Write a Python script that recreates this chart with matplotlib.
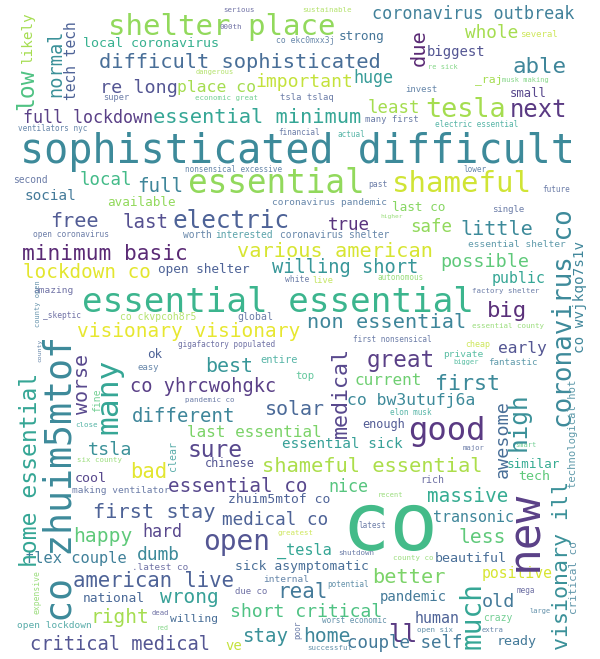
import matplotlib
matplotlib.use("Agg")
import matplotlib.pyplot as plt
import numpy as np

# word cloud terms and their weights (font size, pt)
h_words = [
    "shelter place", "local coronavirus", "difficult sophisticated", "re long", "super",
    "place co", "full lockdown", "essential minimum", "ventilators nyc", "sophisticated difficult",
    "serious", "000th", "sustainable", "co ekc0mxx3j", "strong",
    "coronavirus outbreak", "important", "huge", "economic great", "dangerous",
    "tsla tslaq", "least", "many first", "financial", "actual",
    "whole", "several", "biggest", "re sick", "able",
    "_raj", "musk making", "invest", "small", "tesla",
    "next", "electric essential", "second", "local", "full",
    "social", "available", "free", "last", "electric",
    "open coronavirus", "minimum basic", "open shelter", "lockdown co", "amazing",
    "essential essential", "_skeptic", "co ckvpcoh8r5", "nonsensical excessive", "essential",
    "shameful", "past", "last co", "coronavirus pandemic", "true",
    "higher", "interested", "worth", "coronavirus shelter", "various american",
    "willing short", "white", "live", "autonomous", "global",
    "non essential", "lower", "future", "single", "safe",
    "little", "essential shelter", "possible", "public", "factory shelter",
    "big", "essential county", "ok", "easy", "co yhrcwohgkc",
    "pandemic co", "different", "close", "last essential", "tsla",
    "sure", "six county", "bad", "cool", "making ventilator",
    "essential co", "visionary visionary", "gigafactory populated", "first nonsensical", "best",
    "entire", "top", "great", "current", "solar",
    "co bw3utufj6a", "elon musk", "enough", "essential sick", "chinese",
    "shameful essential", "nice", "good", "private", "bigger",
    "cheap", "early", "fantastic", "first", "smart",
    "similar", "tech", "major", "rich", "massive",
    "recent", "first stay", "happy", "hard", "flex couple",
    "dumb", ".latest co", "american live", "national", "wrong",
    "open lockdown", "right", "dead", "red", "willing",
    "critical medical", "zhuim5mtof co", "medical co", "open", "greatest",
    "latest", "_tesla", "shutdown", "sick asymptomatic", "better",
    "internal", "potential", "real", "due co", "pandemic",
    "short critical", "worst economic", "stay", "home", "ve",
    "successful", "ll", "couple self", "co", "transonic",
    "less", "county co", "beautiful", "positive", "old",
    "mega", "large", "human", "open six", "crazy",
    "extra", "ready",
]
h_sizes = [
    21, 9.6, 14.7, 13.2, 6.2,
    11.8, 12, 14.7, 5.5, 28.9,
    5.3, 5.4, 5.4, 5.8, 9.2,
    12.1, 13, 12, 5.3, 5,
    6.4, 12.5, 6.4, 5.5, 5.5,
    12.8, 6.5, 10, 5, 16.2,
    8.2, 5, 6.5, 8.8, 19.4,
    17.2, 5.6, 6.9, 12.5, 13.8,
    10.4, 9.1, 14.5, 13.8, 17.6,
    5.7, 15.2, 9.2, 13.9, 6.8,
    24.7, 5.7, 7, 5.5, 23.5,
    21, 5.8, 9.2, 6.8, 12.6,
    4.5, 6.9, 6.9, 6.9, 14.6,
    13.5, 5.8, 6.2, 5.5, 7.1,
    14.6, 5.5, 5.5, 6.5, 12.6,
    14.5, 6.8, 13.2, 10.7, 5.3,
    16, 5.4, 9, 6.5, 13.4,
    5.3, 13.7, 5.4, 11.5, 13.2,
    16.5, 5.3, 14.8, 9.6, 6.8,
    13.9, 14, 5.5, 5.5, 14.4,
    7.5, 7.6, 16.3, 11.5, 14.4,
    11.8, 5.5, 8.6, 10.3, 8.6,
    14.7, 12, 23.2, 6.8, 5,
    6, 11.7, 6.6, 15.6, 5,
    9.1, 9.6, 5.2, 7.1, 13.9,
    5, 14.6, 14.1, 12, 11.1,
    12.9, 6.7, 14.9, 9.3, 14,
    6.8, 14, 5.2, 4.8, 8.2,
    13.5, 9.4, 12.7, 20.1, 5.3,
    5.5, 11, 5.4, 9.4, 14.6,
    6.8, 5.5, 15, 6.5, 10.1,
    13.1, 5.5, 13.8, 14.1, 10,
    5.3, 17.6, 12.6, 58, 10.8,
    14.1, 5.3, 9.6, 10.6, 13.2,
    5.5, 5, 10.8, 5.4, 7,
    5.2, 9.6,
]

v_words = [
    "low", "likely", "normal", "tech tech", "due",
    "coronavirus co", "co wvjkqo7s1v", "visionary ill", "co zhuim5mtof", "home essential",
    "county", "worse", "many", "fine", "clear",
    "medical", "awesome", "high", "technological hot", "critical co",
    "much", "new", "county open", "expensive", "poor",
]
v_sizes = [
    16.6, 10.3, 13.4, 10.5, 14.7,
    18.6, 10.3, 15.6, 26.4, 16.6,
    4.6, 14.4, 22.5, 7, 7.1,
    15.6, 13.2, 17.6, 7.6, 7.9,
    20, 32, 5, 5.8, 5.5,
]

# layout: left x, baseline y (pixels from top-left), colour tone on viridis
h_place = [
    (108, 35, .82), (83, 47, .6), (99, 68, .3), (100, 93, .2), (103, 100, .25),
    (177, 92, .85), (23, 123, .12), (153, 123, .55), (18, 131, .3), (20, 163, .42),
    (223, 12, .2), (220, 29, .2), (302, 12, .85), (276, 43, .3), (339, 40, .33),
    (372, 19, .38), (255, 87, .9), (353, 83, .5), (195, 100, .7), (196, 74, .85),
    (280, 100, .25), (368, 113, .85), (365, 122, .25), (278, 135, .25), (338, 137, .55),
    (465, 38, .85), (520, 37, .9), (427, 56, .2), (428, 69, .75), (513, 73, .4),
    (475, 82, .85), (502, 82, .75), (405, 92, .3), (510, 97, .15), (425, 117, .85),
    (510, 117, .1), (435, 127, .55), (13, 183, .25), (80, 185, .65), (137, 192, .4),
    (25, 200, .35), (107, 206, .82), (50, 227, .22), (122, 228, .18), (173, 228, .25),
    (33, 237, .25), (22, 260, .05), (158, 273, .25), (23, 278, .95), (33, 293, .2),
    (82, 312, .62), (43, 318, .2), (120, 320, .85), (185, 172, .3), (188, 193, .82),
    (392, 192, .92), (368, 187, .25), (392, 211, .8), (272, 205, .3), (328, 230, .08),
    (380, 218, .8), (215, 238, .45), (183, 238, .3), (280, 238, .3), (237, 257, .93),
    (272, 273, .48), (285, 282, .25), (312, 283, .88), (377, 280, .8), (237, 320, .25),
    (307, 328, .4), (463, 172, .3), (542, 192, .25), (492, 212, .25), (410, 232, .82),
    (460, 235, .42), (468, 247, .4), (440, 267, .72), (492, 283, .55), (472, 293, .25),
    (487, 317, .07), (472, 328, .8), (147, 358, .25), (137, 370, .3), (130, 392, .12),
    (185, 402, .25), (132, 422, .4), (75, 427, .55), (187, 437, .78), (88, 455, .45),
    (188, 457, .15), (77, 462, .8), (130, 478, .95), (75, 482, .15), (72, 493, .25),
    (168, 492, .15), (77, 337, .96), (178, 347, .2), (353, 342, .25), (205, 372, .48),
    (260, 363, .55), (295, 379, .65), (367, 367, .12), (355, 385, .75), (265, 415, .28),
    (347, 405, .42), (390, 415, .55), (362, 428, .22), (282, 448, .52), (205, 467, .2),
    (262, 472, .86), (328, 492, .7), (408, 440, .1), (443, 357, .6), (453, 364, .6),
    (465, 347, .9), (498, 353, .2), (488, 365, .4), (435, 390, .42), (515, 447, .7),
    (507, 468, .58), (518, 480, .72), (463, 450, .25), (420, 483, .2), (427, 502, .58),
    (378, 497, .8), (93, 518, .25), (73, 542, .72), (142, 537, .15), (25, 563, .38),
    (137, 560, .42), (132, 570, .2), (73, 587, .25), (83, 602, .28), (160, 603, .52),
    (17, 628, .5), (90, 623, .85), (152, 615, .2), (157, 630, .75), (170, 622, .3),
    (30, 650, .2), (228, 503, .25), (222, 525, .25), (203, 550, .2), (277, 535, .9),
    (358, 528, .25), (277, 555, .55), (338, 555, .25), (235, 570, .3), (372, 583, .78),
    (263, 582, .3), (327, 587, .35), (277, 598, .35), (235, 594, .2), (380, 601, .35),
    (230, 617, .68), (322, 623, .35), (242, 642, .45), (303, 642, .4), (225, 650, .9),
    (307, 650, .35), (388, 642, .1), (347, 648, .35), (341, 550, .65), (433, 522, .4),
    (458, 543, .72), (393, 560, .8), (435, 562, .3), (482, 578, .93), (482, 607, .35),
    (517, 593, .2), (530, 613, .35), (415, 623, .25), (417, 632, .35), (483, 621, .7),
    (482, 632, .3), (497, 645, .35),
]

# vertical words: baseline x, bottom y, tone
v_place = [
    (33, 110, .68), (32, 63, .85), (61, 97, .45), (76, 100, .25), (425, 66, .05),
    (572, 428, .42), (584, 353, .4), (568, 650, .45), (72, 622, .42), (37, 567, .55),
    (41, 362, .3), (88, 414, .15), (117, 434, .55), (100, 412, .7), (176, 471, .5),
    (347, 438, .15), (508, 478, .3), (526, 451, .45), (576, 488, .4), (577, 614, .38),
    (480, 649, .55), (537, 571, .12), (40, 327, .35), (40, 614, .8), (300, 639, .25),
]

cmap = plt.cm.viridis
font = "DejaVu Sans Mono"


def tone_color(t, size):
    # the reference is a little washed out, small words even more so
    c = np.array(cmap(t)[:3])
    fade = 0.1 if size >= 8 else 0.25
    return tuple(c + (1 - c) * fade)


fig = plt.figure(figsize=(6, 6.59), dpi=100)
ax = fig.add_axes([0, 0, 1, 1])
ax.set_xlim(0, 600)
ax.set_ylim(659, 0)
ax.axis("off")

for w, s, (x, y, t) in zip(h_words, h_sizes, h_place):
    ax.text(x, y, w, fontsize=s, color=tone_color(t, s), family=font,
            ha="left", va="baseline")

for w, s, (x, y, t) in zip(v_words, v_sizes, v_place):
    ax.text(x, y, w, fontsize=s, color=tone_color(t, s), family=font,
            ha="left", va="baseline", rotation=90, rotation_mode="anchor")

fig.savefig("out.png", dpi=100, facecolor="white")
